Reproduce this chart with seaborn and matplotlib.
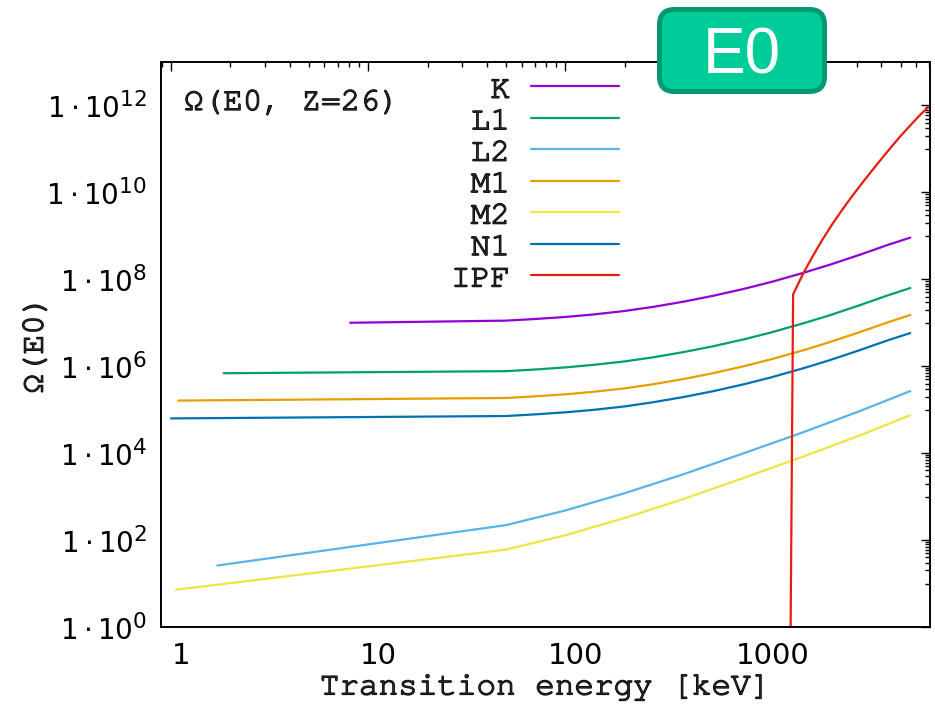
import numpy as np
import pandas as pd
import matplotlib
matplotlib.use("Agg")
import matplotlib.pyplot as plt
import matplotlib.patheffects as pe
import seaborn as sns
from matplotlib.patches import FancyBboxPatch
from matplotlib.transforms import ScaledTranslation
from matplotlib.ticker import FixedLocator, FuncFormatter, LogLocator, NullFormatter

try:
    import matplotlib._mathtext as _mt
    _mt.SHRINK_FACTOR = 0.78
except Exception:
    pass

# ---------------- data ----------------
shells = ["K", "L1", "L2", "M1", "M2", "N1", "IPF"]
colors = ["#9400d3", "#009e73", "#56b4e9", "#e69f00", "#f0e442", "#0072b2", "#e51e10"]

k_x = [8.1, 50, 70, 100, 140, 200, 280, 400, 560, 800, 1100, 1600, 2200, 3100, 4300, 5600]
k_y = [1.0e7, 1.12e7, 1.22e7, 1.36e7, 1.56e7, 1.87e7, 2.33e7, 3.08e7, 4.17e7, 6.0e7,
       8.65e7, 1.40e8, 2.18e8, 3.66e8, 6.17e8, 9.1e8]

l1_x = [1.85, 50, 70, 100, 140, 200, 280, 400, 560, 800, 1100, 1600, 2200, 3100, 4300, 5600]
l1_y = [6.9e5, 7.7e5, 8.4e5, 9.4e5, 1.08e6, 1.29e6, 1.61e6, 2.13e6, 2.88e6, 4.14e6,
        5.97e6, 9.66e6, 1.5e7, 2.53e7, 4.26e7, 6.3e7]

l2_x = [1.72, 50, 100, 200, 400, 800, 1600, 3200, 5600]
l2_y = [26, 221, 481, 1200, 3320, 9.93e3, 3.01e4, 9.8e4, 2.68e5]

m1_x = [1.09, 50, 70, 100, 140, 200, 280, 400, 560, 800, 1100, 1600, 2200, 3100, 4300, 5600]
m1_y = [1.62e5, 1.86e5, 2.03e5, 2.26e5, 2.59e5, 3.1e5, 3.87e5, 5.11e5, 6.92e5, 9.96e5,
        1.44e6, 2.32e6, 3.62e6, 6.08e6, 1.02e7, 1.51e7]

m2_x = [1.06, 50, 100, 200, 400, 800, 1600, 3200, 5600]
m2_y = [7.2, 60.3, 129, 324, 891, 2690, 8320, 2.69e4, 7.5e4]

n1_x = [1.0, 50, 70, 100, 140, 200, 280, 400, 560, 800, 1100, 1600, 2200, 3100, 4300, 5600]
n1_y = [6.3e4, 7.15e4, 7.8e4, 8.7e4, 9.95e4, 1.19e5, 1.49e5, 1.97e5, 2.66e5, 3.83e5,
        5.52e5, 8.93e5, 1.39e6, 2.34e6, 3.94e6, 5.8e6]

ipf_x = [1375, 1426, 1514, 1611, 1778, 1995, 2239, 2512, 2818, 3162, 3548, 3981,
         4592, 5012, 5623, 6310, 7047]
ipf_y = [1.0e-2, 4.5e7, 7.9e7, 1.41e8, 3.16e8, 7.8e8, 1.78e9, 3.8e9, 7.8e9, 1.55e10,
         3.0e10, 5.75e10, 1.26e11, 2.0e11, 3.55e11, 6.2e11, 1.0e12]

x_ticks = [1, 10, 100, 1000]
y_ticks = [1e0, 1e2, 1e4, 1e6, 1e8, 1e10, 1e12]
x_lim = (0.89, 7050)
y_lim = (1.0, 1.0e13)

series_x = [k_x, l1_x, l2_x, m1_x, m2_x, n1_x, ipf_x]
series_y = [k_y, l1_y, l2_y, m1_y, m2_y, n1_y, ipf_y]

df = pd.concat(
    [pd.DataFrame({"energy": xs, "omega": ys, "shell": name})
     for name, xs, ys in zip(shells, series_x, series_y)],
    ignore_index=True,
)

# ---------------- style ----------------
sns.set_style("white")
MONO = ["TeX Gyre Cursor", "FreeMono", "DejaVu Sans Mono"]
plt.rcParams["font.family"] = ["DejaVu Sans"]
plt.rcParams["mathtext.fontset"] = "dejavusans"
FS = 23.5
BOLDEN = [pe.withStroke(linewidth=0.9, foreground="black")]

W, H = 935, 704
fig = plt.figure(figsize=(W / 100, H / 100), dpi=100)
ax_l, ax_r, ax_t, ax_b = 161, 930, 62, 627
ax = fig.add_axes([ax_l / W, 1 - ax_b / H, (ax_r - ax_l) / W, (ax_b - ax_t) / H])

sns.lineplot(data=df, x="energy", y="omega", hue="shell", hue_order=shells,
             palette=dict(zip(shells, colors)), estimator=None, sort=False,
             linewidth=1.6, legend=False, ax=ax)

ax.set_xscale("log")
ax.set_yscale("log")
ax.set_xlim(*x_lim)
ax.set_ylim(*y_lim)

ax.xaxis.set_major_locator(FixedLocator(x_ticks))
ax.xaxis.set_minor_locator(LogLocator(base=10, subs=np.arange(2, 10)))
ax.xaxis.set_major_formatter(FuncFormatter(lambda v, p: f"{v:g}"))
ax.xaxis.set_minor_formatter(NullFormatter())

y_minor = [k * 10.0 ** e for e in range(1, 13, 2) for k in range(1, 10)]
ax.yaxis.set_major_locator(FixedLocator(y_ticks))
ax.yaxis.set_minor_locator(FixedLocator(y_minor))
ax.yaxis.set_major_formatter(FuncFormatter(
    lambda v, p: r"$1\cdot10^{%d}$" % int(round(np.log10(v)))))
ax.yaxis.set_minor_formatter(NullFormatter())

ax.tick_params(which="both", direction="in", top=True, right=True,
               colors="black", width=1.0)
ax.tick_params(which="major", length=6.5)
ax.tick_params(which="minor", length=3.3)
ax.tick_params(axis="x", which="major", pad=11, labelsize=21)
ax.tick_params(axis="y", which="major", pad=10, labelsize=20)
for s in ax.spines.values():
    s.set_linewidth(1.4)
    s.set_color("black")

# gnuplot-like: x tick labels sit slightly right of their ticks
shift = ScaledTranslation(10 / 100, 0, fig.dpi_scale_trans)
for lab in ax.get_xticklabels():
    lab.set_transform(lab.get_transform() + shift)

ax.set_xlabel("Transition energy [keV]", fontsize=FS, family=MONO, path_effects=BOLDEN)
ax.set_ylabel("\u03a9(E0)", fontsize=FS, family=MONO, path_effects=BOLDEN)
ax.xaxis.set_label_coords(0.5, -0.084)
ax.yaxis.set_label_coords(-0.146, 0.5)

ax.text((184 - ax_l) / (ax_r - ax_l), (ax_b - 110) / (ax_b - ax_t),
        "\u03a9(E0, Z=26)", transform=ax.transAxes, ha="left", va="baseline",
        fontsize=FS, family=MONO, path_effects=BOLDEN)

handles = ax.get_lines()[:len(shells)]
leg = ax.legend(handles, shells, loc="upper right",
                bbox_to_anchor=((619 - ax_l) / (ax_r - ax_l), (ax_b - 75) / (ax_b - ax_t)),
                frameon=False, markerfirst=False, borderpad=0, borderaxespad=0,
                handlelength=2.7, handletextpad=0.64, labelspacing=0.08,
                prop={"family": MONO, "size": FS})
for t in leg.get_texts():
    t.set_path_effects(BOLDEN)

# ---------------- E0 badge ----------------
bx0, bx1, by0, by1 = 659.5, 824.5, 9.5, 91.5
badge = FancyBboxPatch((bx0 / 100, (H - by1) / 100), (bx1 - bx0) / 100, (by1 - by0) / 100,
                       boxstyle="round,pad=0,rounding_size=0.15",
                       transform=fig.dpi_scale_trans, facecolor="#00cc99",
                       edgecolor="#009970", linewidth=3.6, zorder=5)
fig.add_artist(badge)
fig.text(742 / W, 1 - 74 / H, "E0", ha="center", va="baseline", color="white",
         fontsize=46, family=["Liberation Sans", "DejaVu Sans"], zorder=6)

fig.savefig("out.png", dpi=100, facecolor="white")
